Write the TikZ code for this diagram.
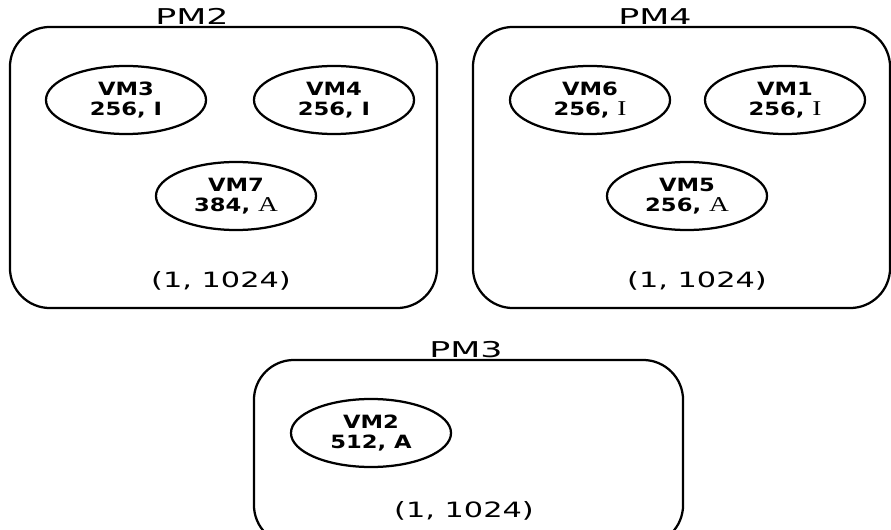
\documentclass[tikz,border=0pt]{standalone}
\usepackage{fontspec}
\usetikzlibrary{shapes.geometric}
\newfontfamily\vmfont[FakeStretch=1.24]{DejaVu Sans}
\newfontfamily\pmfont[FakeStretch=1.6]{DejaVu Sans}
\newfontfamily\capfont[FakeStretch=1.44]{DejaVu Sans}
\newfontfamily\letterfont[FakeStretch=1.3]{Liberation Serif}
\tikzset{
  pm box/.style={draw, line width=1.6pt, rounded corners=1cm, inner sep=0pt},
  vm/.style={ellipse, draw, line width=1.6pt, minimum width=4.0cm, minimum height=1.7cm,
             inner sep=0pt, align=center, font=\vmfont\bfseries\fontsize{13}{14}\selectfont},
  pm label/.style={anchor=base, inner sep=0pt, font=\pmfont\fontsize{15.5}{18}\selectfont},
  pm cap/.style={anchor=base, inner sep=0pt, font=\capfont\fontsize{15}{18}\selectfont},
}
\newcommand{\serifletter}[1]{{\letterfont\mdseries\fontsize{15}{14}\selectfont #1}}

\begin{document}
\begin{tikzpicture}[x=0.025cm, y=-0.025cm]
  \useasboundingbox (0,0) rectangle (891,530);
  \clip (0,0) rectangle (891,530);
  % physical machines
  \node[pm box, minimum width=10.675cm, minimum height=7.025cm] (pm2) at (223.5,167.5) {};
  \node[pm box, minimum width=10.425cm, minimum height=7.025cm] (pm4) at (681.5,167.5) {};
  \node[pm box, minimum width=10.725cm, minimum height=4.625cm] (pm3) at (468.5,452.5) {};
  \node[pm label] (pm2 name) at (192,25)  {PM2};
  \node[pm label] (pm4 name) at (655,25)  {PM4};
  \node[pm label] (pm3 name) at (466,357) {PM3};
  \node[pm cap] (pm2 cap) at (221,287) {(1, 1024)};
  \node[pm cap] (pm4 cap) at (697,287) {(1, 1024)};
  \node[pm cap] (pm3 cap) at (464,517) {(1, 1024)};
  % virtual machines
  \node[vm] (vm3) at (126,100) {VM3\\256, I};
  \node[vm] (vm4) at (334,100) {VM4\\256, I};
  \node[vm] (vm7) at (236,196) {VM7\\384, \serifletter{A}};
  \node[vm] (vm6) at (590,100) {VM6\\256, \serifletter{I}};
  \node[vm] (vm1) at (785,100) {VM1\\256, \serifletter{I}};
  \node[vm] (vm5) at (687,196) {VM5\\256, \serifletter{A}};
  \node[vm] (vm2) at (371,433) {VM2\\512, A};
\end{tikzpicture}
\end{document}
